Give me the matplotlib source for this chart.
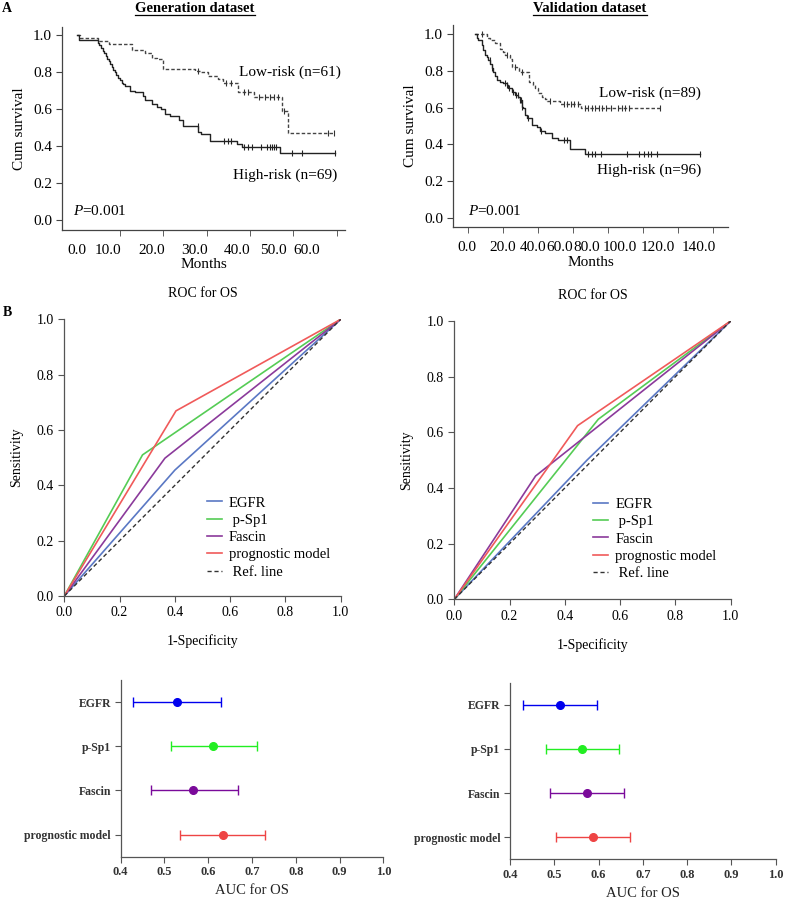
import matplotlib
matplotlib.use("Agg")
import matplotlib.pyplot as plt
import numpy as np
from matplotlib.lines import Line2D

plt.rcParams["font.family"] = "Liberation Serif"
plt.rcParams["mathtext.fontset"] = "custom"
plt.rcParams["mathtext.rm"] = "Liberation Serif"
plt.rcParams["mathtext.it"] = "Liberation Serif:italic"

# ---- Kaplan-Meier, generation dataset (months, cum survival)
gen_low_t = [0, 0.8, 5.0, 7.5, 12.8, 15.8, 17.3, 18.5, 20.0, 27.3, 28.8, 30.4, 32.7, 33.8, 37.3, 40.8, 47.3, 48.8, 59.4]
gen_low_s = [1.0, 0.984, 0.969, 0.951, 0.921, 0.903, 0.88, 0.871, 0.82, 0.808, 0.80, 0.78, 0.763, 0.741, 0.696, 0.668, 0.589, 0.472, 0.472]
gen_low_cens = [28.0, 34.5, 35.5, 38.5, 39.5, 42.0, 43.5, 44.5, 45.5, 46.5, 47.8, 58.0, 59.4]
gen_high_t = [0, 0.6, 4.85, 5.2, 5.6, 6.0, 6.3, 6.7, 7.0, 7.4, 7.8, 8.1, 8.5, 8.9, 9.2, 9.6, 10.0, 10.4, 10.8, 11.15,
              12.3, 13.45, 15.4, 15.8, 17.3, 18.5, 19.5, 20.4, 21.5, 23.5, 24.6, 28.1, 28.8, 30.8, 36.9, 38.1, 46.9, 59.6]
gen_high_s = [1.0, 0.975, 0.96, 0.946, 0.931, 0.917, 0.902, 0.888, 0.873, 0.859, 0.844, 0.83, 0.815, 0.80, 0.786, 0.771,
              0.757, 0.742, 0.735, 0.727, 0.70, 0.691, 0.673, 0.652, 0.628, 0.614, 0.60, 0.574, 0.565, 0.54, 0.512,
              0.479, 0.467, 0.431, 0.413, 0.395, 0.362, 0.362]
gen_high_cens = [28.0, 34.0, 35.0, 35.5, 38.5, 39.5, 40.5, 42.5, 44.0, 44.5, 45.0, 45.5, 46.0, 49.6, 52.0, 59.6]
gen_ticks = [0, 10, 20, 30, 40, 50, 60]
gen_tick_labels = ["0.0", "10.0", "20.0", "30.0", "40.0", "50.0", "60.0"]

# ---- Kaplan-Meier, validation dataset
val_low_t = [4.2, 10.9, 12.7, 15.6, 18.5, 20.3, 21.3, 24.2, 25.1, 28.0, 29.5, 35.0, 37.5, 38.5, 40.3, 42.3, 44.2,
             45.1, 52.7, 65.0, 110.0]
val_low_s = [1.0, 0.981, 0.969, 0.951, 0.92, 0.905, 0.887, 0.864, 0.823, 0.815, 0.796, 0.742, 0.724, 0.705, 0.678,
             0.66, 0.647, 0.636, 0.618, 0.60, 0.60]
val_low_cens = [8.0, 22.5, 27.0, 31.0, 47.0, 55.0, 57.0, 59.0, 61.0, 63.0, 67.0, 69.0, 71.0, 72.5, 75.0, 77.0, 79.0,
                82.0, 86.0, 88.0, 90.0, 92.0, 110.0]
val_high_t = [4.2, 5.1, 6.1, 8.0, 8.9, 9.9, 10.9, 11.8, 12.7, 13.7, 14.6, 15.6, 16.6, 18.5, 20.3, 22.3, 23.2, 25.1,
              27.0, 28.9, 29.9, 30.9, 31.8, 32.7, 33.7, 36.6, 39.4, 41.3, 44.2, 48.0, 51.8, 58.5, 67.0, 132.7]
val_high_s = [1.0, 0.981, 0.969, 0.942, 0.914, 0.887, 0.878, 0.86, 0.836, 0.818, 0.796, 0.774, 0.751, 0.738, 0.733,
              0.724, 0.709, 0.687, 0.669, 0.66, 0.642, 0.605, 0.597, 0.56, 0.542, 0.505, 0.496, 0.473, 0.46, 0.436,
              0.424, 0.375, 0.35, 0.35]
val_high_cens = [12.5, 14.0, 21.5, 22.5, 23.5, 26.0, 27.5, 28.5, 30.0, 30.5, 31.2, 34.5, 42.0, 55.0, 57.0, 69.0,
                 71.0, 73.0, 76.0, 91.0, 98.0, 101.0, 103.0, 105.0, 108.0, 132.7]
val_ticks = [0, 20, 40, 60, 80, 100, 120, 140]
val_tick_labels = ["0.0", "20.0", "40.0", "60.0", "80.0", "100.0", "120.0", "140.0"]

# ---- ROC knees (1-specificity, sensitivity)
markers = ["EGFR", "p-Sp1", "Fascin", "prognostic model"]
roc_gen = {"EGFR": (0.40, 0.455), "p-Sp1": (0.283, 0.51), "Fascin": (0.364, 0.498), "prognostic model": (0.404, 0.669)}
roc_val = {"EGFR": (0.48, 0.50), "p-Sp1": (0.521, 0.647), "Fascin": (0.294, 0.443), "prognostic model": (0.446, 0.624)}
roc_colors = ["#5a78c4", "#55cc55", "#8b3a9b", "#f05a5a"]

# ---- AUC with 95% CI
auc_gen = [0.528, 0.612, 0.566, 0.633]
lo_gen = [0.429, 0.515, 0.469, 0.536]
hi_gen = [0.629, 0.711, 0.668, 0.729]
auc_val = [0.513, 0.562, 0.574, 0.587]
lo_val = [0.429, 0.481, 0.491, 0.505]
hi_val = [0.597, 0.647, 0.658, 0.670]
auc_colors = ["#0000ee", "#22ee22", "#7a0a9a", "#ee4444"]

W, H = 785, 899
fig = plt.figure(figsize=(W / 100, H / 100), dpi=100)


def px_axes(l, t, r, b):
    return fig.add_axes([l / W, 1 - b / H, (r - l) / W, (b - t) / H])


def style(ax, color="#444444"):
    for s in ["top", "right"]:
        ax.spines[s].set_visible(False)
    for s in ["left", "bottom"]:
        ax.spines[s].set_color(color)
        ax.spines[s].set_linewidth(0.9)
    ax.tick_params(colors=color, labelcolor="black", direction="out", length=4, width=0.8)


def step_at(t, s, c):
    idx = np.searchsorted(t, c, side="right") - 1
    return np.asarray(s)[idx]


def km_panel(ax, low_t, low_s, low_c, high_t, high_s, high_c, ticks, labels, label_pos, xlim):
    ax.step(low_t, low_s, where="post", color="#444444", lw=1.0, ls=(0, (2.5, 1.5)))
    ax.step(high_t, high_s, where="post", color="#222222", lw=1.0)
    ax.plot(low_c, step_at(low_t, low_s, low_c), ls="none", marker="|", ms=4, mew=0.8, color="#333333")
    ax.plot(high_c, step_at(high_t, high_s, high_c), ls="none", marker="|", ms=4, mew=0.8, color="#222222")
    style(ax)
    ax.set_xlim(*xlim)
    ax.set_ylim(-0.053, 1.045)
    ax.set_yticks([0, 0.2, 0.4, 0.6, 0.8, 1.0])
    ax.set_yticklabels(["0.0", "0.2", "0.4", "0.6", "0.8", "1.0"], fontsize=11)
    ax.set_xticks(ticks, minor=True)
    ax.set_xticks(label_pos)
    ax.set_xticklabels(labels, fontsize=11)
    ax.tick_params(axis="x", which="major", length=0, pad=10)
    ax.tick_params(axis="x", which="minor", length=4, color="#444444")
    ax.set_xlabel("Months", fontsize=11, labelpad=1)
    ax.set_ylabel("Cum survival", fontsize=11, labelpad=5)


# top-left KM
ax1 = px_axes(62.3, 27, 345, 230)
km_panel(ax1, gen_low_t, gen_low_s, gen_low_cens, gen_high_t, gen_high_s, gen_high_cens,
         gen_ticks, gen_tick_labels, [0, 7.3, 17.3, 27.1, 36.9, 45.4, 53.1], (-3.3, 61.9))
ax1.text(37.5, 0.80, "Low-risk (n=61)", fontsize=11, va="center")
ax1.text(36.0, 0.242, "High-risk (n=69)", fontsize=11, va="center")
ax1.text(-0.8, 0.048, r"$\mathit{P}$=0.001", fontsize=11, va="center")

# top-right KM
ax2 = px_axes(453.3, 25, 728.3, 227.3)
km_panel(ax2, val_low_t, val_low_s, val_low_cens, val_high_t, val_high_s, val_high_cens,
         val_ticks, val_tick_labels, [-0.6, 19.8, 37.5, 52.7, 68.0, 87.0, 108.9, 131.8], (-8.2, 148.9))
ax2.set_ylim(-0.052, 1.051)
ax2.text(75.0, 0.68, "Low-risk (n=89)", fontsize=11, va="center")
ax2.text(74.0, 0.26, "High-risk (n=96)", fontsize=11, va="center")
ax2.text(0.3, 0.036, r"$\mathit{P}$=0.001", fontsize=11, va="center")


def roc_panel(ax, knees, leg_x, leg_y):
    for name, c in zip(markers, roc_colors):
        kx, ky = knees[name]
        ax.plot([0, kx, 1], [0, ky, 1], color=c, lw=1.2, label=(" " + name if name == "p-Sp1" else name))
    ax.plot([0, 1], [0, 1], color="#333333", lw=1.0, ls=(0, (3, 2)), label=" Ref. line")
    style(ax, "#555555")
    ax.set_xlim(0, 1)
    ax.set_ylim(0, 1)
    ticks = [0, 0.2, 0.4, 0.6, 0.8, 1.0]
    tl = ["0.0", "0.2", "0.4", "0.6", "0.8", "1.0"]
    ax.set_xticks(ticks)
    ax.set_xticklabels(tl, fontsize=10)
    ax.set_yticks(ticks)
    ax.set_yticklabels(tl, fontsize=10)
    ax.set_title("ROC for OS", fontsize=10, pad=16)
    ax.set_xlabel("1-Specificity", fontsize=10, labelpad=11)
    ax.set_ylabel("Sensitivity", fontsize=10, labelpad=10)
    ax.legend(loc="upper left", bbox_to_anchor=(leg_x, leg_y), frameon=False, fontsize=10.5,
              handlelength=1.0, handletextpad=0.5, labelspacing=0.28, borderpad=0, borderaxespad=0)


ax3 = px_axes(64.3, 319.3, 340.7, 596)
roc_panel(ax3, roc_gen, 0.516, 0.36)
ax4 = px_axes(454.3, 321, 730.7, 599.3)
roc_panel(ax4, roc_val, 0.503, 0.365)


def auc_panel(ax, auc, lo, hi):
    ypos = np.arange(len(markers))[::-1] + 1
    for i, c in enumerate(auc_colors):
        ax.errorbar(auc[i], ypos[i], xerr=[[auc[i] - lo[i]], [hi[i] - auc[i]]], fmt="o", color=c,
                    ms=5.5, capsize=3.5, elinewidth=1.0, capthick=1.0)
    style(ax, "#555555")
    ax.set_xlim(0.4, 1.0)
    ax.set_ylim(0.5, 4.5)
    ax.set_yticks(ypos)
    ax.set_yticklabels(markers, fontsize=8.5, fontweight="bold", color="#333333")
    xt = [0.4, 0.5, 0.6, 0.7, 0.8, 0.9, 1.0]
    ax.set_xticks(xt)
    ax.set_xticklabels(["%.1f" % v for v in xt], fontsize=9, fontweight="bold", color="#333333")
    ax.tick_params(length=4, pad=3)
    ax.set_xlabel("AUC for OS", fontsize=10.5, labelpad=4, color="#222222")


ax5 = px_axes(120.7, 680, 383.3, 856.7)
auc_panel(ax5, auc_gen, lo_gen, hi_gen)
ax6 = px_axes(510, 682.7, 775.7, 859.3)
auc_panel(ax6, auc_val, lo_val, hi_val)

# panel letters and dataset titles
fig.text(7 / W, 1 - 8 / H, "A", fontsize=10, fontweight="bold", va="center", ha="center")
fig.text(7 / W, 1 - 313 / H, "B", fontsize=10, fontweight="bold", va="center", ha="center")
titles = [fig.text(195 / W, 1 - 8 / H, "Generation dataset", fontsize=10.5, fontweight="bold", ha="center", va="center"),
          fig.text(590 / W, 1 - 8 / H, "Validation dataset", fontsize=10.5, fontweight="bold", ha="center", va="center")]

fig.canvas.draw()
inv = fig.transFigure.inverted()
for t in titles:
    bb = t.get_window_extent()
    (x0, y0), (x1, _) = inv.transform([(bb.x0, bb.y0 - 0.5), (bb.x1, bb.y0)])
    fig.add_artist(Line2D([x0, x1], [y0, y0], transform=fig.transFigure, color="black", lw=0.9))

fig.savefig("out.png", dpi=100)
